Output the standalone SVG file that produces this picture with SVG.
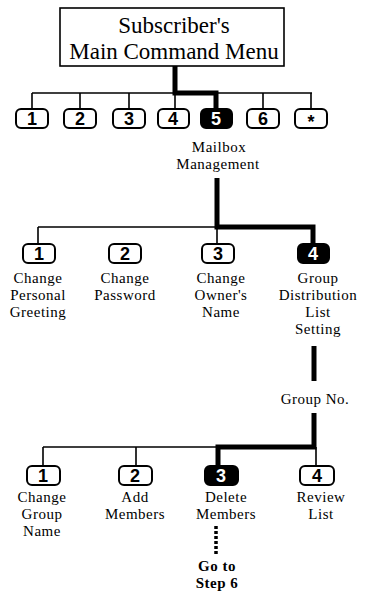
<svg xmlns="http://www.w3.org/2000/svg" width="365" height="595" viewBox="0 0 365 595">
<style>
.lbl{font-family:"Liberation Serif","Times New Roman",serif;font-size:15px;letter-spacing:0.5px;fill:#000;text-anchor:middle}
.title{font-family:"Liberation Serif","Times New Roman",serif;font-size:23px;fill:#000;text-anchor:middle}
.bold{font-weight:bold}
.key{fill:#fff;stroke:#000;stroke-width:2}
.keyOn{fill:#000;stroke:#000;stroke-width:2}
.kt{font-family:"Liberation Sans",Arial,sans-serif;font-weight:bold;font-size:18px;fill:#000;text-anchor:middle}
.ktOn{font-family:"Liberation Sans",Arial,sans-serif;font-weight:bold;font-size:18px;fill:#fff;text-anchor:middle}
.thin{fill:none;stroke:#000;stroke-width:1.6}
.thick{fill:none;stroke:#000;stroke-width:5}
.dots{fill:none;stroke:#000;stroke-width:3.5;stroke-dasharray:3 2}
</style>
<rect width="365" height="595" fill="#fff"/>
<g id="connectors">
  <path class="thin" d="M32 93H312M32 93V110M80 93V110M129 93V110M175 93V110M263 93V110M311 93V110"/>
  <path class="thick" d="M175 66V93H216V110"/>
  <path class="thin" d="M38 227H217M38 227V243M217 227V243"/>
  <path class="thick" d="M217 178V227H313V243"/>
  <path class="thick" d="M314 346V381"/>
  <path class="thin" d="M43 447H218M43 447V465M136 447V465M316 447V465"/>
  <path class="thick" d="M314 413V447H218V465"/>
  <path class="dots" d="M216 526V554"/>
</g>
<g id="main-menu">
  <rect x="60" y="8" width="224" height="58" fill="#fff" stroke="#000" stroke-width="1.6"/>
  <text class="title" x="174" y="33">Subscriber's</text>
  <text class="title" x="174" y="59">Main Command Menu</text>
</g>
<g id="key1">
  <rect class="key" x="16" y="109" width="32" height="19" rx="5"/>
  <text class="kt" x="32" y="125">1</text>
</g>
<g id="key2">
  <rect class="key" x="64" y="109" width="32" height="19" rx="5"/>
  <text class="kt" x="80" y="125">2</text>
</g>
<g id="key3">
  <rect class="key" x="113" y="109" width="32" height="19" rx="5"/>
  <text class="kt" x="129" y="125">3</text>
</g>
<g id="key4">
  <rect class="key" x="158" y="109" width="31" height="19" rx="5"/>
  <text class="kt" x="173" y="125">4</text>
</g>
<g id="key5-mailbox">
  <rect class="keyOn" x="201" y="109" width="31" height="19" rx="5"/>
  <text class="ktOn" x="216" y="125">5</text>
  <text class="lbl" x="219" y="152">Mailbox</text>
  <text class="lbl" x="218" y="169">Management</text>
</g>
<g id="key6">
  <rect class="key" x="247" y="109" width="32" height="19" rx="5"/>
  <text class="kt" x="263" y="125">6</text>
</g>
<g id="keystar">
  <rect class="key" x="295" y="109" width="32" height="19" rx="5"/>
  <text class="kt" x="311" y="128">*</text>
</g>
<g id="mb1">
  <rect class="key" x="23" y="244" width="32" height="19" rx="5"/>
  <text class="kt" x="39" y="260">1</text>
  <text class="lbl" x="38" y="283">Change</text>
  <text class="lbl" x="38" y="300">Personal</text>
  <text class="lbl" x="38" y="317">Greeting</text>
</g>
<g id="mb2">
  <rect class="key" x="109" y="244" width="32" height="19" rx="5"/>
  <text class="kt" x="125" y="260">2</text>
  <text class="lbl" x="125" y="283">Change</text>
  <text class="lbl" x="125" y="300">Password</text>
</g>
<g id="mb3">
  <rect class="key" x="202" y="244" width="32" height="19" rx="5"/>
  <text class="kt" x="218" y="260">3</text>
  <text class="lbl" x="221" y="283">Change</text>
  <text class="lbl" x="221" y="300">Owner's</text>
  <text class="lbl" x="221" y="317">Name</text>
</g>
<g id="mb4">
  <rect class="keyOn" x="298" y="244" width="31" height="19" rx="5"/>
  <text class="ktOn" x="313" y="260">4</text>
  <text class="lbl" x="318" y="283">Group</text>
  <text class="lbl" x="318" y="300">Distribution</text>
  <text class="lbl" x="318" y="317">List</text>
  <text class="lbl" x="318" y="334">Setting</text>
</g>
<g id="group-no">
  <text class="lbl" x="315" y="404">Group No.</text>
</g>
<g id="g1">
  <rect class="key" x="27" y="466" width="33" height="19" rx="5"/>
  <text class="kt" x="43" y="482">1</text>
  <text class="lbl" x="42" y="502">Change</text>
  <text class="lbl" x="42" y="519">Group</text>
  <text class="lbl" x="42" y="536">Name</text>
</g>
<g id="g2">
  <rect class="key" x="119" y="466" width="33" height="19" rx="5"/>
  <text class="kt" x="135" y="482">2</text>
  <text class="lbl" x="135" y="502">Add</text>
  <text class="lbl" x="135" y="519">Members</text>
</g>
<g id="g3">
  <rect class="keyOn" x="205" y="466" width="33" height="19" rx="5"/>
  <text class="ktOn" x="221" y="482">3</text>
  <text class="lbl" x="226" y="502">Delete</text>
  <text class="lbl" x="226" y="519">Members</text>
</g>
<g id="g4">
  <rect class="key" x="300" y="466" width="34" height="19" rx="5"/>
  <text class="kt" x="317" y="482">4</text>
  <text class="lbl" x="321" y="502">Review</text>
  <text class="lbl" x="321" y="519">List</text>
</g>
<g id="goto-step6">
  <text class="lbl bold" x="217" y="571">Go to</text>
  <text class="lbl bold" x="217" y="588">Step 6</text>
</g>
</svg>
